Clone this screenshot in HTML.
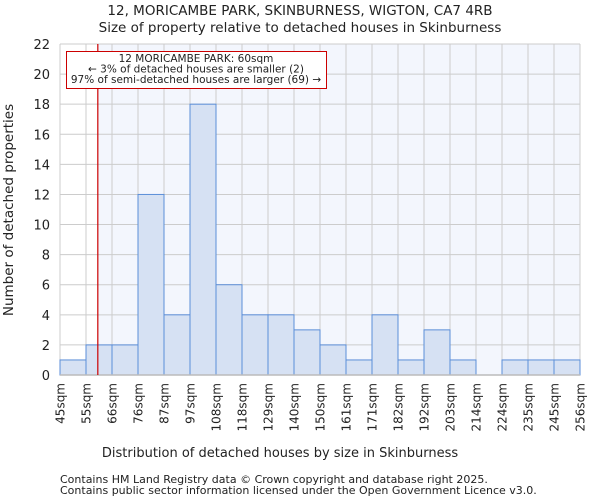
<!DOCTYPE html>
<html><head><meta charset="utf-8"><style>
body{margin:0;background:#fff;font-family:"DejaVu Sans","Liberation Sans",sans-serif;}
svg text{font-family:"DejaVu Sans","Liberation Sans",sans-serif;fill:#222;}
</style></head><body>
<svg id="c" width="600" height="500" xmlns="http://www.w3.org/2000/svg">
<text x="300" y="15" text-anchor="middle" font-size="13.5">12, MORICAMBE PARK, SKINBURNESS, WIGTON, CA7 4RB</text>
<text x="300" y="32" text-anchor="middle" font-size="13.5">Size of property relative to detached houses in Skinburness</text>
<g id="plot"></g>
<text x="280" y="457" text-anchor="middle" font-size="13">Distribution of detached houses by size in Skinburness</text>
<text transform="translate(13,210) rotate(-90)" text-anchor="middle" font-size="13.5">Number of detached properties</text>
<text x="60" y="483" font-size="11">Contains HM Land Registry data © Crown copyright and database right 2025.</text>
<text x="60" y="494" font-size="11">Contains public sector information licensed under the Open Government Licence v3.0.</text>
</svg>
<script>
const binLabels=["45sqm","55sqm","66sqm","76sqm","87sqm","97sqm","108sqm","118sqm","129sqm","140sqm","150sqm","161sqm","171sqm","182sqm","192sqm","203sqm","214sqm","224sqm","235sqm","245sqm","256sqm"];
const counts=[1,2,2,12,4,18,6,4,4,3,2,1,4,1,3,1,0,1,1,1];
const yTicks=[0,2,4,6,8,10,12,14,16,18,20,22];
const propertySize=60;
const binEdges=[45,55,66,76,87,97,108,118,129,140,150,161,171,182,192,203,214,224,235,245,256];
const L=60,R=580,T=44,B=375,yMax=22;
const NS="http://www.w3.org/2000/svg";
const g=document.getElementById('plot');
const bw=(R-L)/counts.length;
const x=i=>L+i*bw;
const y=v=>B-(v/yMax)*(B-T);
function xv(v){for(let i=0;i<binEdges.length-1;i++){if(v<=binEdges[i+1])return x(i)+(v-binEdges[i])/(binEdges[i+1]-binEdges[i])*bw;}return R;}
function el(t,a){const e=document.createElementNS(NS,t);for(const k in a)e.setAttribute(k,a[k]);g.appendChild(e);return e;}
const px=xv(propertySize);
let e=el('rect',{x:px,y:T,width:R-px,height:B-T,fill:'#f3f6fd'});


yTicks.forEach(t=>{
 let l=el('line',{x1:L,x2:R,y1:y(t),y2:y(t),stroke:'#ccc','stroke-width':1});
 
 
 let tx=el('text',{x:L-10,y:y(t)+5,'text-anchor':'end','font-size':13});
 tx.textContent=t;
 
 
});
binLabels.forEach((s,i)=>{
 let l=el('line',{x1:x(i),x2:x(i),y1:T,y2:B,stroke:'#ccc','stroke-width':1});
 
 
 let tx=el('text',{transform:`translate(${x(i)+4.5},${B+8}) rotate(-90)`,'text-anchor':'end','font-size':12});
 tx.textContent=s;
 
 
});
counts.forEach((c,i)=>{
 if(c<=0)return;
 let r=el('rect',{x:x(i),y:y(c),width:bw,height:B-y(c),fill:'#d6e1f3',stroke:'#5b8ed8','stroke-width':1});
 
 
});
e=el('line',{x1:L,x2:R,y1:B,y2:B,stroke:'#bbb','stroke-width':1.5});


e=el('line',{x1:px,x2:px,y1:T,y2:B,stroke:'#cc0000','stroke-width':1.2});


e=el('rect',{x:66.5,y:51.5,width:260,height:37,fill:'#fff',stroke:'#cc0000','stroke-width':1});


["12 MORICAMBE PARK: 60sqm","← 3% of detached houses are smaller (2)","97% of semi-detached houses are larger (69) →"].forEach((s,i)=>{
 let t=el('text',{x:196,y:62+i*10.5,'text-anchor':'middle','font-size':10.5});
 t.textContent=s;
 
 
});
</script>
</body></html>
